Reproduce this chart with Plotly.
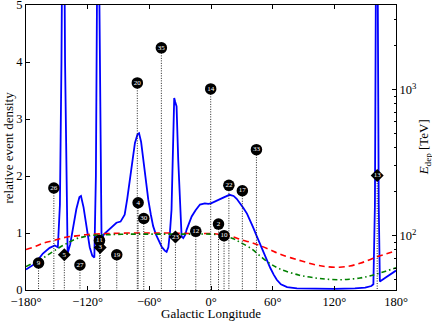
import plotly.graph_objects as go

# relative event density (blue) vs galactic longitude
lon_density = [-180, -173, -167, -163.6, -157, -152, -149, -147, -145.5, -143.7, -142, -140.5, -139.5,
               -137, -134, -131, -128, -126.5, -124, -121, -118, -115.5, -113.5,
               -112, -110.8, -109.6, -108.8, -108.2, -107.5, -106.5, -104, -100, -96, -92, -88, -84, -81.5,
               -79, -76, -74, -71.5, -70, -68, -66, -63.5, -61, -58.5, -56.3, -53.5, -51.4, -48, -45, -43.2,
               -41.5, -40, -38.4, -36.8, -35.8, -34.8, -33.5, -31.9, -30.2, -28.6, -27, -25, -23.7, -21,
               -18.8, -15, -10.7, -6, -2.6, 0, 4, 8.8, 13, 18, 22, 25, 28, 31.5, 35, 38, 41, 44.6, 48, 51,
               54, 57.6, 61, 64, 68, 74, 83.6, 100, 120, 140, 150, 156, 158, 159.5, 161.3, 163.2, 164.3,
               170, 180]
density = [0.36, 0.44, 0.56, 0.64, 0.74, 0.78, 0.75, 1.5, 4.0, 9.0, 4.0, 1.2, 0.64,
           0.8, 1.1, 1.42, 1.63, 1.65, 1.45, 1.06, 0.75, 0.6, 0.57,
           2.0, 5.5, 9.0, 5.5, 4.3, 1.5, 0.9, 0.98, 1.05, 1.12, 1.18, 1.2, 1.32, 1.6,
           1.94, 2.35, 2.58, 2.73, 2.75, 2.6, 2.29, 1.92, 1.58, 1.32, 1.12, 0.97, 0.88, 0.76, 0.69, 0.67,
           0.75, 1.0, 1.41, 2.87, 3.37, 3.3, 3.22, 2.29, 1.41, 0.94, 0.91, 0.97, 1.06, 1.17,
           1.29, 1.4, 1.5, 1.52, 1.51, 1.52, 1.55, 1.6, 1.63, 1.67, 1.65, 1.6, 1.53, 1.44, 1.34, 1.23,
           1.1, 0.94, 0.79, 0.65, 0.52, 0.39, 0.27, 0.18, 0.1, 0.05, 0.03, 0.02, 0.02, 0.03, 0.04,
           0.07, 0.1, 1.5, 9.0, 1.5, 0.15, 0.22, 0.34]

# red dashed and green dash-dot reference curves
lon_ref = [-180, -170, -163.6, -155, -147, -140, -131, -122, -115, -100, -80, -60, -40, -20, 0, 10,
           21.8, 28, 38, 47.6, 57, 67, 86, 102, 112, 125, 135, 145, 153, 161, 170, 180]
red_curve = [0.71, 0.77, 0.82, 0.86, 0.90, 0.93, 0.95, 0.97, 0.98, 0.99, 1.0, 1.0, 1.0, 0.99, 0.99, 0.97,
             0.93, 0.89, 0.84, 0.78, 0.71, 0.63, 0.52, 0.44, 0.41, 0.40, 0.42, 0.47, 0.52, 0.58, 0.63, 0.69]
green_curve = [0.41, 0.50, 0.56, 0.66, 0.75, 0.82, 0.90, 0.94, 0.96, 0.97, 0.98, 0.98, 0.98, 0.98, 0.98, 0.96,
               0.90, 0.84, 0.74, 0.60, 0.47, 0.37, 0.26, 0.21, 0.19, 0.18, 0.19, 0.21, 0.24, 0.28, 0.33, 0.39]

# events: id, longitude, deposited energy [TeV]
cascade_ids = ["9", "26", "27", "11", "19", "20", "4", "30", "35", "12", "14", "2", "10", "22", "17", "33"]
cascade_lon = [-167.8, -152.9, -127.5, -108.5, -91.7, -71.7, -70.9, -65.4, -48.3, -14.8, -0.3, 7.3, 12.7, 17.4, 30.5, 44.2]
cascade_e = [65, 212, 63, 92.5, 74, 1111, 168, 131, 1930, 107, 1011, 120, 100, 221, 203, 388]

track_ids = ["5", "3", "23", "13"]
track_lon = [-142.7, -107.8, -34.6, 161.7]
track_e = [74, 83, 98, 258]

e_min, e_max = 10 ** 1.628, 10 ** 3.579

fig = go.Figure()
fig.add_trace(go.Scatter(x=lon_density, y=density, mode="lines", line=dict(color="#0000ff", width=1.8)))
fig.add_trace(go.Scatter(x=lon_ref, y=red_curve, mode="lines", line_shape="spline",
                         line=dict(color="#ff0000", width=1.6, dash="6px,4px")))
fig.add_trace(go.Scatter(x=lon_ref, y=green_curve, mode="lines", line_shape="spline",
                         line=dict(color="#008000", width=1.6, dash="5px,3px,1.5px,3px")))

# dotted drop lines from each event to the bottom
lx, ly = [], []
for lo, e in zip(cascade_lon + track_lon, cascade_e + track_e):
    lx += [lo, lo, None]
    ly += [e, e_min, None]
fig.add_trace(go.Scatter(x=lx, y=ly, yaxis="y2", mode="lines",
                         line=dict(color="#222222", width=1, dash="1px,1.5px")))

fig.add_trace(go.Scatter(x=cascade_lon, y=cascade_e, yaxis="y2", mode="markers+text", text=cascade_ids,
                         marker=dict(symbol="circle", size=11.5, color="black"),
                         textfont=dict(color="white", size=7, family="Liberation Serif"),
                         textposition="middle center"))
fig.add_trace(go.Scatter(x=track_lon, y=track_e, yaxis="y2", mode="markers+text", text=track_ids,
                         marker=dict(symbol="diamond", size=10, color="black"),
                         textfont=dict(color="white", size=7, family="Liberation Serif"),
                         textposition="middle center"))

minor_vals = [m * 10 ** d for d in (1, 2, 3) for m in range(2, 10) if e_min < m * 10 ** d < e_max]

axis_common = dict(ticks="inside", ticklen=4, tickcolor="black", showline=True, linecolor="black",
                   linewidth=1, showgrid=False, zeroline=False, automargin=False, ticklabeloverflow="allow",
                   tickfont=dict(color="black", size=12.5, family="Liberation Serif"))

fig.update_layout(
    width=432, height=321, margin=dict(l=26, r=36, t=5, b=31, autoexpand=False),
    paper_bgcolor="white", plot_bgcolor="white", showlegend=False, hovermode=False,
    font=dict(family="Liberation Serif", size=12.5, color="black"),
    xaxis=dict(range=[-180, 180], tickvals=[-180, -120, -60, 0, 60, 120, 180],
               ticktext=["\u2212180°", "\u2212120°", "\u221260°", "0°", "60°", "120°", "180°"],
               mirror="ticks", **axis_common),
    yaxis=dict(range=[0, 5], tickvals=[0, 1, 2, 3, 4, 5], **axis_common),
    yaxis2=dict(type="log", range=[1.628, 3.579], overlaying="y", side="right",
                tickvals=[100, 1000], ticktext=["10<sup>2</sup>", "10<sup>3</sup>"],
                minor=dict(tickvals=minor_vals, ticks="inside", ticklen=2, tickcolor="black", showgrid=False),
                **axis_common),
    annotations=[
        dict(text="Galactic Longitude", xref="paper", yref="paper", x=0.5, y=-0.081,
             xanchor="center", yanchor="middle", showarrow=False, font=dict(size=13)),
        dict(text="relative event density", xref="paper", yref="paper", x=-0.046, y=0.5,
             xanchor="center", yanchor="middle", textangle=-90, showarrow=False, font=dict(size=13)),
        dict(text="<i>E</i><sub>dep</sub> [TeV]", xref="paper", yref="paper", x=1.078, y=0.5,
             xanchor="center", yanchor="middle", textangle=-90, showarrow=False, font=dict(size=13)),
    ],
)

# drop the browser's default page margin so the 432x321 figure fills the window
fig.write_html("out.html", config={"displayModeBar": False},
               post_script="document.body.style.margin='0';")
